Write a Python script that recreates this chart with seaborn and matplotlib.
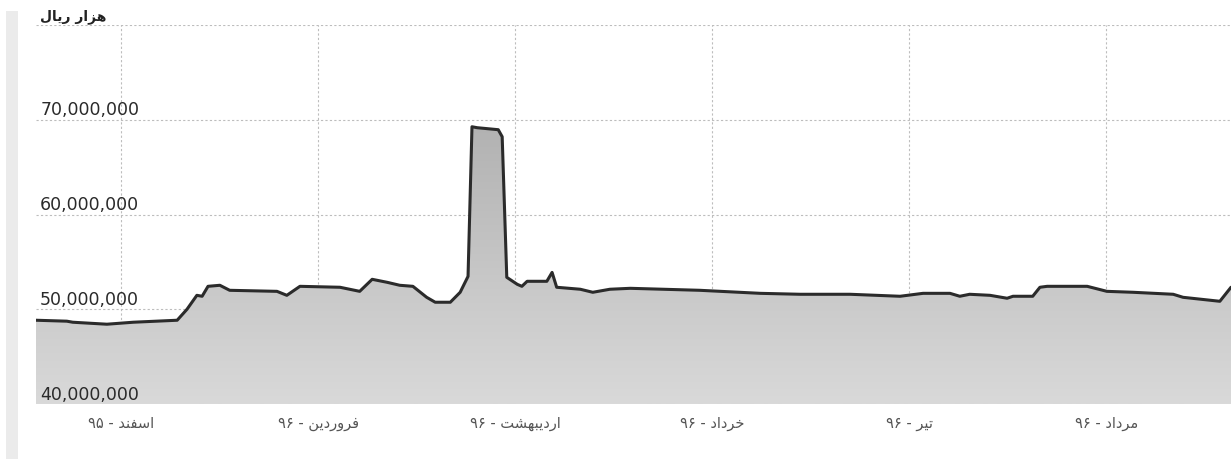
import numpy as np
import pandas as pd
import matplotlib
matplotlib.use("Agg")
import matplotlib.pyplot as plt
from matplotlib.colors import LinearSegmentedColormap
from matplotlib.patches import PathPatch, Rectangle
import seaborn as sns

# data (day index from start, value in rials x1000)
days = [0.0, 4.7, 5.6, 10.8, 14.8, 21.5, 23.0, 24.5, 25.3, 26.2, 28.0, 29.5,
        36.7, 38.2, 40.2, 46.3, 49.3, 51.2, 53.5, 55.4, 57.4, 59.5, 60.8, 63.1,
        64.6, 65.8, 66.4, 67.2, 70.4, 71.0, 71.7, 73.3, 74.0, 74.8, 77.8, 78.6,
        79.3, 82.9, 84.8, 87.4, 90.5, 101.1, 110.3, 116.4, 124.0, 131.6, 135.1,
        139.2, 140.7, 142.2, 145.3, 147.9, 148.8, 151.8, 152.9, 154.0, 160.1,
        163.1, 167.1, 173.2, 174.7, 180.3, 182.0]
values_m = [48.84, 48.74, 48.63, 48.42, 48.63, 48.84, 50.0, 51.47, 51.37, 52.42,
            52.53, 52.0, 51.89, 51.47, 52.42, 52.32, 51.89, 53.16, 52.84, 52.53,
            52.42, 51.26, 50.74, 50.74, 51.79, 53.47, 69.26, 69.16, 68.95, 68.21,
            53.37, 52.63, 52.42, 52.95, 52.95, 53.89, 52.32, 52.11, 51.79, 52.11,
            52.21, 52.0, 51.68, 51.58, 51.58, 51.37, 51.68, 51.68, 51.37, 51.58,
            51.47, 51.16, 51.37, 51.37, 52.32, 52.42, 52.42, 51.89, 51.79, 51.58,
            51.26, 50.84, 52.32]
month_days = [13, 43, 73, 103, 133, 163]
months = ["اسفند", "فروردین", "اردیبهشت", "خرداد", "تیر", "مرداد"]
years = ["۹۵", "۹۶", "۹۶", "۹۶", "۹۶", "۹۶"]
y_ticks = [40_000_000, 50_000_000, 60_000_000, 70_000_000]
unit_label = "هزار ریال"

# simple arabic shaping (iso, fin, ini, med)
FORMS = {
    'ا': ('\uFE8D', '\uFE8E'), 'د': ('\uFEA9', '\uFEAA'), 'ر': ('\uFEAD', '\uFEAE'),
    'ز': ('\uFEAF', '\uFEB0'), 'و': ('\uFEED', '\uFEEE'),
    'س': ('\uFEB1', '\uFEB2', '\uFEB3', '\uFEB4'), 'ش': ('\uFEB5', '\uFEB6', '\uFEB7', '\uFEB8'),
    'ف': ('\uFED1', '\uFED2', '\uFED3', '\uFED4'), 'ن': ('\uFEE5', '\uFEE6', '\uFEE7', '\uFEE8'),
    'ی': ('\uFEEF', '\uFEF0', '\uFEF3', '\uFEF4'), 'ل': ('\uFEDD', '\uFEDE', '\uFEDF', '\uFEE0'),
    'ه': ('\uFEE9', '\uFEEA', '\uFEEB', '\uFEEC'), 'ت': ('\uFE95', '\uFE96', '\uFE97', '\uFE98'),
    'ب': ('\uFE8F', '\uFE90', '\uFE91', '\uFE92'), 'خ': ('\uFEA5', '\uFEA6', '\uFEA7', '\uFEA8'),
    'م': ('\uFEE1', '\uFEE2', '\uFEE3', '\uFEE4'),
}


def shape(word):
    out = []
    for i, ch in enumerate(word):
        f = FORMS[ch]
        prev_j = i > 0 and len(FORMS[word[i - 1]]) == 4
        next_j = len(f) == 4 and i < len(word) - 1
        if prev_j and next_j:
            out.append(f[3])
        elif prev_j:
            out.append(f[1])
        elif next_j:
            out.append(f[2])
        else:
            out.append(f[0])
    return "".join(reversed(out))


def rtl(text):
    return " ".join(shape(w) for w in reversed(text.split(" ")))


df = pd.DataFrame({"day": days, "value": np.array(values_m) * 1e6})

sns.set_style("white")
plt.rcParams["font.family"] = ["DejaVu Sans", "Noto Sans"]

fig = plt.figure(figsize=(12.31, 4.60), dpi=100)
fig.patches.append(Rectangle((6 / 1231, 0), 12 / 1231, 1 - 12 / 460, transform=fig.transFigure,
                             facecolor="#ebebeb", edgecolor="none"))
ax = fig.add_axes([36 / 1231, 55 / 460, 1195 / 1231, 379 / 460])

# gradient fill under the line
poly = ax.fill_between(df["day"], df["value"], 40e6, color="none", linewidth=0)
patch = PathPatch(poly.get_paths()[0], transform=ax.transData, facecolor="none", edgecolor="none")
ax.add_patch(patch)
cmap = LinearSegmentedColormap.from_list("g", ["#d9d9d9", "#a4a4a4"])
grad = np.linspace(0, 1, 256).reshape(-1, 1)
im = ax.imshow(grad, extent=[0, 182, 40e6, 80e6], aspect="auto", cmap=cmap,
               origin="lower", zorder=1)
im.set_clip_path(patch)

sns.lineplot(data=df, x="day", y="value", color="#2b2b2b", linewidth=2.2, ax=ax, zorder=3,
             solid_joinstyle="round", solid_capstyle="round")

ax.set_xlim(0, 182)
ax.set_ylim(40e6, 80e6)
ax.set_yticks([40e6, 50e6, 60e6, 70e6, 80e6])
ax.set_yticklabels([])
ax.set_xticks(month_days)
ax.set_xticklabels([f"{y} - {rtl(m)}" for m, y in zip(months, years)],
                   fontsize=10.5, color="#555555")
ax.tick_params(axis="both", length=0)
ax.tick_params(axis="x", pad=8)
ax.set_xlabel("")
ax.set_ylabel("")
ax.set_axisbelow(True)
ax.grid(True, linestyle=(0, (2, 2)), color="#bdbdbd", linewidth=0.8)
for s in ax.spines.values():
    s.set_visible(False)

for v in y_ticks:
    ax.annotate(f"{v:,}", xy=(0, v), xycoords=("axes fraction", "data"),
                xytext=(3, 1), textcoords="offset points", ha="left", va="bottom",
                fontsize=12.5, color="#2a2a2a", zorder=5)

fig.text(40 / 1231, 1 - 17 / 460, rtl(unit_label), ha="left", va="center",
         fontsize=10, fontweight="bold", color="#222222")

fig.savefig("out.png", dpi=100, facecolor="white")
